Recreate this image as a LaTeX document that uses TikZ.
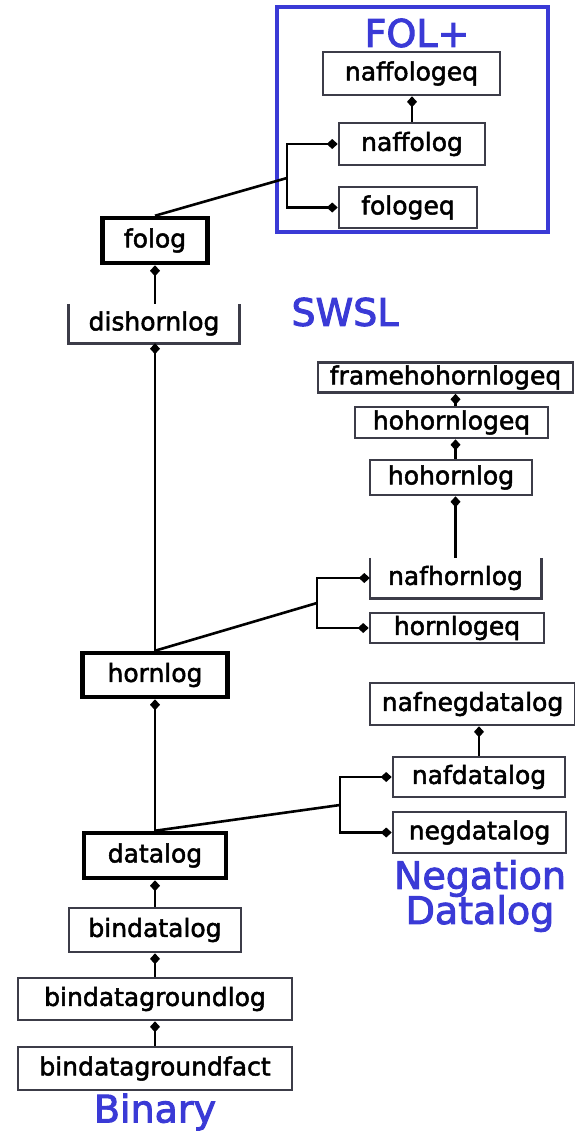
\documentclass[tikz,border=0pt]{standalone}
\usepackage{fontspec}
\setmainfont{DejaVu Sans}
\newfontfamily\boxfont{DejaVu Sans}[BoldFont={DejaVu Sans}, BoldFeatures={FakeBold=2}]
\newfontfamily\lblfont{DejaVu Sans}[BoldFont={DejaVu Sans}, BoldFeatures={FakeBold=2.5}]
\usetikzlibrary{arrows.meta}
\definecolor{lblue}{RGB}{58,58,214}
\definecolor{bgray}{RGB}{60,60,72}
\tikzset{
  box/.style={draw=bgray, line width=2.6pt, inner sep=0pt, align=center,
    font=\boxfont\bfseries\fontsize{25}{30}\selectfont},
  thickbox/.style={box, draw=black, line width=4.5pt},
  openbox/.style={inner sep=0pt, align=center, font=\boxfont\bfseries\fontsize{25}{30}\selectfont},
  conn/.style={line width=2.6pt, black},
  dtip/.style={conn, -{Diamond[length=11pt,width=10pt]}},
  lbl/.style={text=lblue, font=\lblfont\bfseries\fontsize{38}{38}\selectfont, inner sep=0pt, align=center}
}
\begin{document}
\begin{tikzpicture}[x=1pt,y=-1pt]
\useasboundingbox (0,0) rectangle (575,1132);
% FOL+ group
\draw[lblue, line width=3.5pt] (277,7) rectangle (548,232);
\node[lbl] (fol) at (417,33) {FOL+};
\node[box, minimum width=177pt, minimum height=43pt] (naffologeq) at (411.5,73.5) {naffologeq};
\node[box, minimum width=146pt, minimum height=42pt] (naffolog) at (412,144) {naffolog};
\node[box, minimum width=138pt, minimum height=41pt] (fologeq) at (408,207.5) {fologeq};
% main column
\node[thickbox, minimum width=105pt, minimum height=45pt] (folog) at (155,240.5) {folog};
\node[openbox, minimum width=171pt, minimum height=39pt] (dishornlog) at (154,323.5) {dishornlog};
\draw[bgray, line width=2.6pt] (dishornlog.north west) -- (dishornlog.south west) -- (dishornlog.south east) -- (dishornlog.north east);
\node[lbl] (swsl) at (345,312) {SWSL};
% horn group
\node[box, minimum width=255pt, minimum height=30pt] (framehohornlogeq) at (445.5,377.5) {framehohornlogeq};
\node[box, minimum width=193pt, minimum height=31pt] (hohornlogeq) at (451.5,422.5) {hohornlogeq};
\node[box, minimum width=162pt, minimum height=35pt] (hohornlog) at (451,477.5) {hohornlog};
\node[openbox, minimum width=171pt, minimum height=40pt] (nafhornlog) at (455.5,578) {nafhornlog};
\draw[bgray, line width=2.6pt] (nafhornlog.north west) -- (nafhornlog.south west) -- (nafhornlog.south east) -- (nafhornlog.north east);
\node[box, minimum width=174pt, minimum height=30pt] (hornlogeq) at (457,628) {hornlogeq};
\node[thickbox, minimum width=145pt, minimum height=44pt] (hornlog) at (155,675) {hornlog};
% negation group
\node[box, minimum width=205pt, minimum height=42pt] (nafnegdatalog) at (472.5,704) {nafnegdatalog};
\node[box, minimum width=172pt, minimum height=40pt] (nafdatalog) at (479,777) {nafdatalog};
\node[box, minimum width=173pt, minimum height=41pt] (negdatalog) at (479.5,832.5) {negdatalog};
\node[lbl] (neg) at (480,896) {Negation\\[-3pt]Datalog};
\node[thickbox, minimum width=142pt, minimum height=45pt] (datalog) at (155,855.5) {datalog};
% binary
\node[box, minimum width=172pt, minimum height=44pt] (bindatalog) at (155,930) {bindatalog};
\node[box, minimum width=274pt, minimum height=42pt] (bindatagroundlog) at (155,999) {bindatagroundlog};
\node[box, minimum width=274pt, minimum height=43pt] (bindatagroundfact) at (155,1068.5) {bindatagroundfact};
\node[lbl] (binary) at (155,1112) {Binary};
% brackets
\coordinate (bF) at (287,178);
\coordinate (bH) at (317,603);
\coordinate (bD) at (340,805);
% connectors FOL+
\draw[dtip] (naffolog.north) -- (naffolog.north |- naffologeq.south);
\draw[conn] (folog.north) -- (bF);
\draw[dtip] (bF) |- (naffolog.west);
\draw[dtip] (bF) |- (fologeq.west);
% main column
\draw[dtip] (folog.south |- dishornlog.north) -- (folog.south);
\draw[dtip] (hornlog.north) -- (hornlog.north |- dishornlog.south);
\draw[dtip] (datalog.north) -- (hornlog.south);
\draw[dtip] (bindatalog.north) -- (datalog.south);
\draw[dtip] (bindatagroundlog.north) -- (bindatalog.south);
\draw[dtip] (bindatagroundfact.north) -- (bindatagroundlog.south);
% horn group
\draw[dtip] (nafhornlog.north) -- (nafhornlog.north |- hohornlog.south);
\draw[dtip] (hohornlog.north -| nafhornlog.north) -- (hohornlogeq.south -| nafhornlog.north);
\draw[dtip] (hohornlogeq.north -| nafhornlog.north) -- (framehohornlogeq.south -| nafhornlog.north);
\draw[conn] (hornlog.north) -- (bH);
\draw[dtip] (bH) |- (nafhornlog.west);
\draw[dtip] (bH) |- (hornlogeq.west);
% negation group
\draw[dtip] (nafdatalog.north) -- (nafdatalog.north |- nafnegdatalog.south);
\draw[conn] (datalog.north) -- (bD);
\draw[dtip] (bD) |- (nafdatalog.west);
\draw[dtip] (bD) |- (negdatalog.west);
\end{tikzpicture}
\end{document}
